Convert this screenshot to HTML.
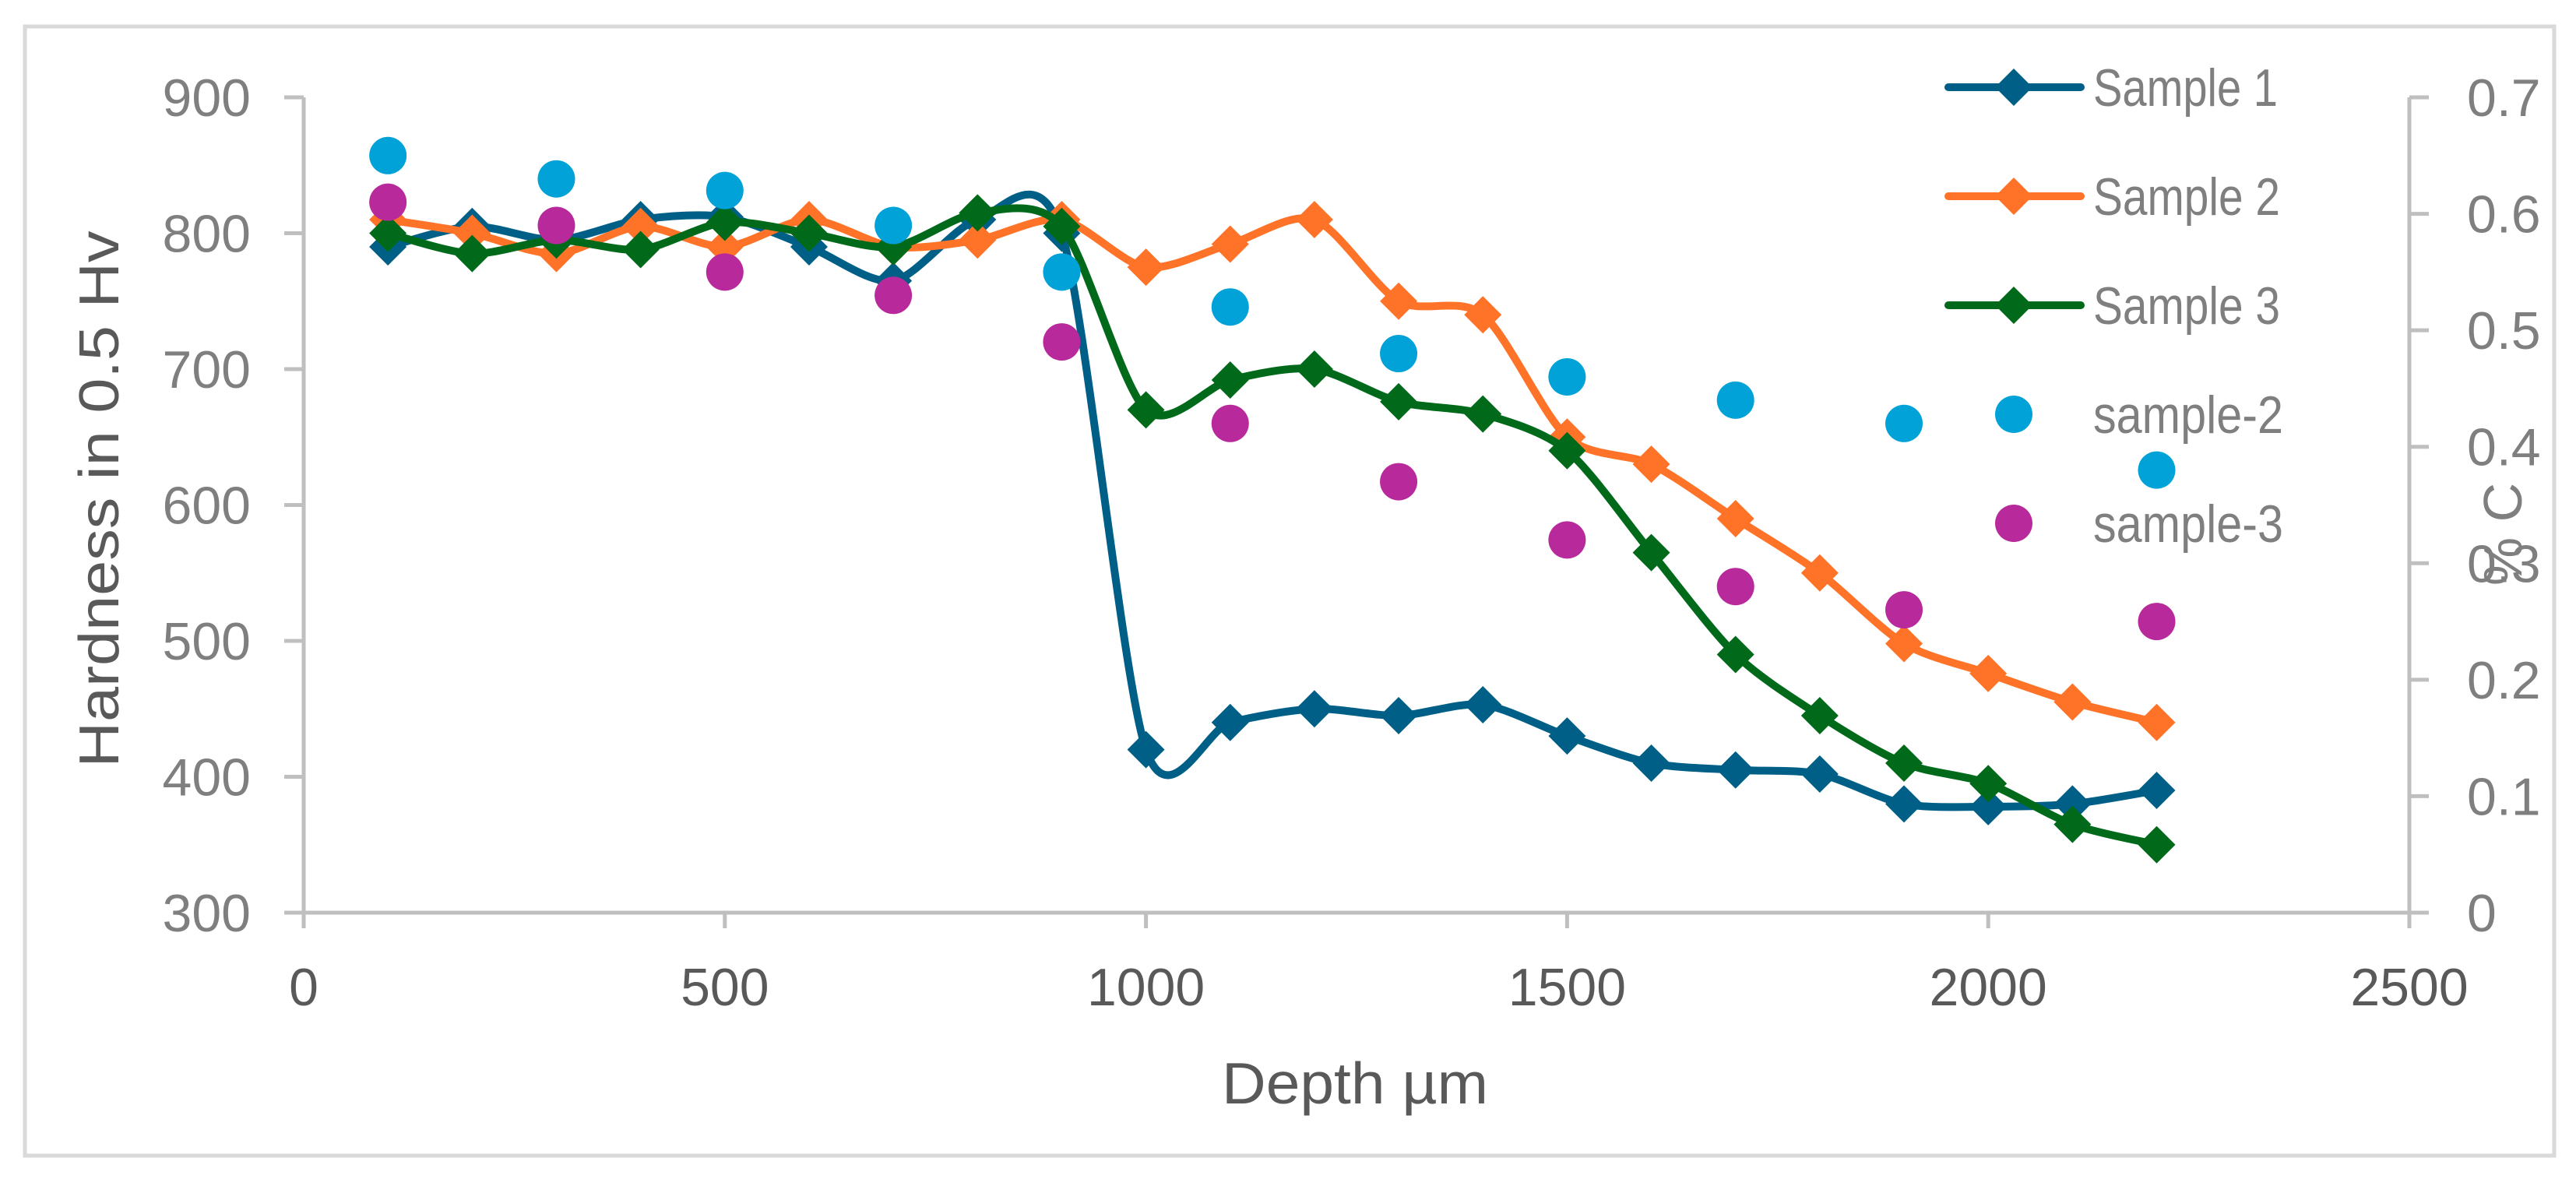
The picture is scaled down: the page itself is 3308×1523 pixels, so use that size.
<!DOCTYPE html>
<html><head><meta charset="utf-8"><style>
html,body{margin:0;padding:0;background:#fff;}
svg{display:block;font-family:"Liberation Sans",sans-serif;}
</style></head><body>
<svg id="chart" width="3308" height="1523" viewBox="0 0 3308 1523">
<rect x="32" y="34" width="3248" height="1450" fill="#fff" stroke="#d9d9d9" stroke-width="5"/>
<g id="axes"></g>
<g id="series"></g>
<text x="1740" y="1417" font-size="75" fill="#595959" text-anchor="middle" textLength="342" lengthAdjust="spacingAndGlyphs">Depth µm</text>
<text transform="translate(152,641) rotate(-90)" font-size="72" fill="#595959" text-anchor="middle" textLength="689" lengthAdjust="spacingAndGlyphs">Hardness in 0.5 Hv</text>
<text transform="translate(3238,686) rotate(-90)" font-size="70" fill="#7f7f7f" text-anchor="middle">% C</text>
<g id="legend"></g>
</svg>
<script>
const depths=[100,200,300,400,500,600,700,800,900,1000,1100,1200,1300,1400,1500,1600,1700,1800,1900,2000,2100,2200];
const sample1=[790,805,795,810,812,790,765,810,800,420,440,450,445,453,430,410,405,402,380,378,380,390];
const sample2=[810,800,785,805,790,810,790,795,810,775,792,810,750,740,650,630,590,550,498,476,455,440];
const sample3=[800,785,795,788,808,800,790,815,805,670,692,700,676,667,640,565,490,445,410,395,365,350];
const carbonDepths=[100,300,500,700,900,1100,1300,1500,1700,1900,2200];
const carbon2=[0.65,0.63,0.62,0.59,0.55,0.52,0.48,0.46,0.44,0.42,0.38];
const carbon3=[0.61,0.59,0.55,0.53,0.49,0.42,0.37,0.32,0.28,0.26,0.25];
const xTicks=[0,500,1000,1500,2000,2500];
const yTicks=[300,400,500,600,700,800,900];
const y2Ticks=[0,0.1,0.2,0.3,0.4,0.5,0.6,0.7];

const NS='http://www.w3.org/2000/svg';
const X0=390,X1=3094,Y0=1172,Y1=125;
const xs=v=>X0+(v-0)/2500*(X1-X0);
const ys=v=>Y0-(v-300)/600*(Y0-Y1);
const y2s=v=>Y0-v/0.7*(Y0-Y1);
function mk(tag,attrs,parent){const e=document.createElementNS(NS,tag);for(const k in attrs)e.setAttribute(k,attrs[k]);parent.appendChild(e);return e;}
const axes=document.getElementById('axes');
const ser=document.getElementById('series');
const leg=document.getElementById('legend');
const ax='#bfbfbf';
let l=mk('line',{x1:X0,y1:Y0,x2:X1,y2:Y0,stroke:ax,'stroke-width':5},axes);

l=mk('line',{x1:X0,y1:Y1,x2:X0,y2:Y0,stroke:ax,'stroke-width':5},axes);

l=mk('line',{x1:X1,y1:Y1,x2:X1,y2:Y0,stroke:ax,'stroke-width':5},axes);

xTicks.forEach(t=>{
  mk('line',{x1:xs(t),y1:Y0,x2:xs(t),y2:Y0+20,stroke:ax,'stroke-width':5},axes);
  const tx=mk('text',{x:xs(t),y:1291,'font-size':68,fill:'#595959','text-anchor':'middle'},axes);
  tx.textContent=t;
  
  
});
yTicks.forEach(t=>{
  mk('line',{x1:X0-25,y1:ys(t),x2:X0,y2:ys(t),stroke:ax,'stroke-width':5},axes);
  const tx=mk('text',{x:322,y:ys(t)+24,'font-size':68,fill:'#7f7f7f','text-anchor':'end'},axes);
  tx.textContent=t;
  
  
});
y2Ticks.forEach(t=>{
  mk('line',{x1:X1,y1:y2s(t),x2:X1+25,y2:y2s(t),stroke:ax,'stroke-width':5},axes);
  const tx=mk('text',{x:3168,y:y2s(t)+24,'font-size':68,fill:'#7f7f7f','text-anchor':'start'},axes);
  tx.textContent=t;
  
  
});
function smooth(pts){
  let d='M'+pts[0][0]+','+pts[0][1];
  for(let i=0;i<pts.length-1;i++){
    const p0=pts[i-1]||pts[i],p1=pts[i],p2=pts[i+1],p3=pts[i+2]||p2;
    const t=0.14;
    d+=' C'+(p1[0]+(p2[0]-p0[0])*t)+','+(p1[1]+(p2[1]-p0[1])*t)+' '+(p2[0]-(p3[0]-p1[0])*t)+','+(p2[1]-(p3[1]-p1[1])*t)+' '+p2[0]+','+p2[1];
  }
  return d;
}
function diamond(cx,cy,r,c,parent,name){
  const p=mk('polygon',{points:`${cx},${cy-r} ${cx+r},${cy} ${cx},${cy+r} ${cx-r},${cy}`,fill:c},parent);
  
  
}
const lines=[[sample1,'#005F86','sample-1'],[sample2,'#FF7328','sample-2-line'],[sample3,'#006A1A','sample-3-line']];
lines.forEach(([vals,c,name])=>{
  const g=mk('g',{},ser);
  
  
  const pts=depths.map((d,i)=>[xs(d),ys(vals[i])]);
  const p=mk('path',{d:smooth(pts),fill:'none',stroke:c,'stroke-width':10,'stroke-linejoin':'round'},g);
  
  
  pts.forEach(q=>diamond(q[0],q[1],24,c,g,name+'-marker'));
});
[[carbon2,'#00A2D8','carbon-sample-2'],[carbon3,'#B8299B','carbon-sample-3']].forEach(([vals,c,name])=>{
  const g=mk('g',{},ser);
  
  
  carbonDepths.forEach((d,i)=>{
    const e=mk('ellipse',{cx:xs(d),cy:y2s(vals[i]),rx:24,ry:24,fill:c},g);
    
    
  });
});
const legendItems=[['Sample 1','#005F86',true,237],['Sample 2','#FF7328',true,240],['Sample 3','#006A1A',true,240],['sample-2','#00A2D8',false,244],['sample-3','#B8299B',false,244]];
const legY=[112,252,392,532,672];
legendItems.forEach(([lab,c,isLine,w],i)=>{
  const g=mk('g',{},leg);
  
  
  const y=legY[i];
  if(isLine){
    mk('line',{x1:2502,y1:y,x2:2672,y2:y,stroke:c,'stroke-width':10,'stroke-linecap':'round'},g);
    diamond(2586,y,24,c,g,'legend-marker');
  } else {
    const e=mk('ellipse',{cx:2586,cy:y,rx:24,ry:24,fill:c},g);
    
    
  }
  const t=mk('text',{x:2688,y:y+24,'font-size':68,fill:'#7f7f7f',textLength:w,lengthAdjust:'spacingAndGlyphs'},g);
  t.textContent=lab;
  
  
});
</script>
</body></html>
